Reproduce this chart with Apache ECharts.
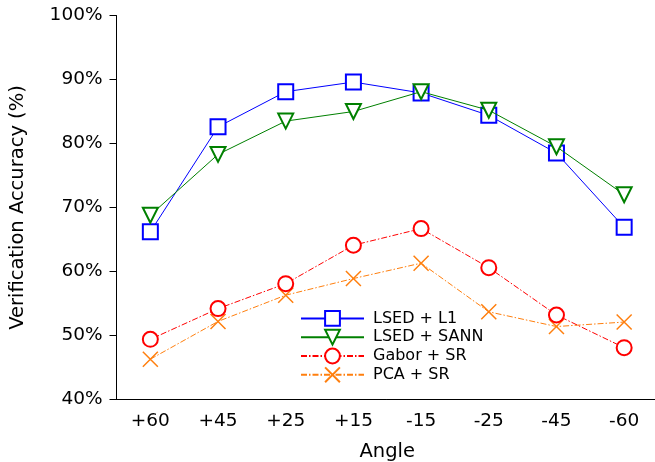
<!DOCTYPE html>
<html>
<head>
<meta charset="utf-8">
<script src="https://cdn.jsdelivr.net/npm/echarts@6/dist/echarts.min.js"></script>
<style>
  html, body { margin: 0; padding: 0; background: #fff; }
  #main { width: 655px; height: 462px; }
</style>
</head>
<body>
<div id="main"></div>
<script>
var myChart = echarts.init(document.getElementById('main'));

// x轴类别
var angles = ['+60', '+45', '+25', '+15', '-15', '-25', '-45', '-60'];

// 各方法准确率 (%)
var lsedL1 = [66.2, 82.6, 88.1, 89.6, 87.9, 84.4, 78.5, 66.9];
var lsedSann = [68.8, 78.3, 83.5, 85.0, 88.1, 85.2, 79.5, 72.0];
var gaborSr = [49.4, 54.2, 58.1, 64.1, 66.7, 60.6, 53.2, 48.1];
var pcaSr = [46.3, 52.2, 56.3, 58.9, 61.3, 53.7, 51.4, 52.1];

// y轴范围
var yMin = 40, yMax = 100, yStep = 10;

var font = 'DejaVu Sans';
var xMark = 'path://M0,0L10,10M10,0L0,10';

var option = {
  animation: false,
  backgroundColor: '#fff',
  grid: {
    left: 116.5,
    right: -3,
    top: 15.5,
    bottom: 62.5,
    outerBoundsMode: 'none'
  },
  legend: {
    orient: 'vertical',
    left: 300,
    top: 310,
    padding: 0,
    itemWidth: 63,
    itemHeight: 18.5,
    itemGap: 2,
    textStyle: {
      fontFamily: font,
      fontSize: 16,
      color: '#000',
      padding: [0, 0, 0, 4]
    },
    data: ['LSED + L1', 'LSED + SANN', 'Gabor + SR', 'PCA + SR']
  },
  xAxis: {
    type: 'category',
    data: angles,
    boundaryGap: true,
    name: 'Angle',
    nameLocation: 'middle',
    nameGap: 42,
    nameTextStyle: { fontFamily: font, fontSize: 19.5, color: '#000' },
    axisLine: { lineStyle: { color: '#000', width: 1 } },
    axisTick: { alignWithLabel: true, length: 7, lineStyle: { color: '#000' } },
    axisLabel: { fontFamily: font, fontSize: 18.5, color: '#000', margin: 12 },
    splitLine: { show: false }
  },
  yAxis: {
    type: 'value',
    min: yMin,
    max: yMax,
    interval: yStep,
    name: 'Verification Accuracy (%)',
    nameLocation: 'middle',
    nameGap: 89,
    nameTextStyle: { fontFamily: font, fontSize: 19.5, color: '#000' },
    axisLine: { show: true, lineStyle: { color: '#000', width: 1 } },
    axisTick: { show: true, length: 7, lineStyle: { color: '#000' } },
    axisLabel: { fontFamily: font, fontSize: 18.5, color: '#000', margin: 14, formatter: '{value}%' },
    splitLine: { show: false }
  },
  series: [
    {
      name: 'LSED + L1',
      type: 'line',
      data: lsedL1,
      symbol: 'emptyRect',
      symbolSize: 15,
      color: '#0000ff',
      lineStyle: { width: 1, color: '#0000ff' },
      itemStyle: { color: '#0000ff', borderWidth: 1.5 },
      z: 4
    },
    {
      name: 'LSED + SANN',
      type: 'line',
      data: lsedSann,
      symbol: 'emptyTriangle',
      symbolRotate: 180,
      symbolSize: 15,
      color: '#008000',
      lineStyle: { width: 1, color: '#008000' },
      itemStyle: { color: '#008000', borderWidth: 1.5 },
      z: 5
    },
    {
      name: 'Gabor + SR',
      type: 'line',
      data: gaborSr,
      symbol: 'emptyCircle',
      symbolSize: 15,
      color: '#ff0000',
      lineStyle: { width: 1, color: '#ff0000', type: [6, 2, 1.5, 2] },
      itemStyle: { color: '#ff0000', borderWidth: 1.5 },
      z: 3
    },
    {
      name: 'PCA + SR',
      type: 'line',
      data: pcaSr,
      symbol: xMark,
      symbolSize: 15,
      color: '#ff7f0e',
      lineStyle: { width: 1, color: '#ff7f0e', type: [6, 2, 1.5, 2] },
      itemStyle: { color: '#ff7f0e', borderColor: '#ff7f0e', borderWidth: 1.5 },
      z: 2
    }
  ]
};

myChart.setOption(option);
</script>
</body>
</html>
